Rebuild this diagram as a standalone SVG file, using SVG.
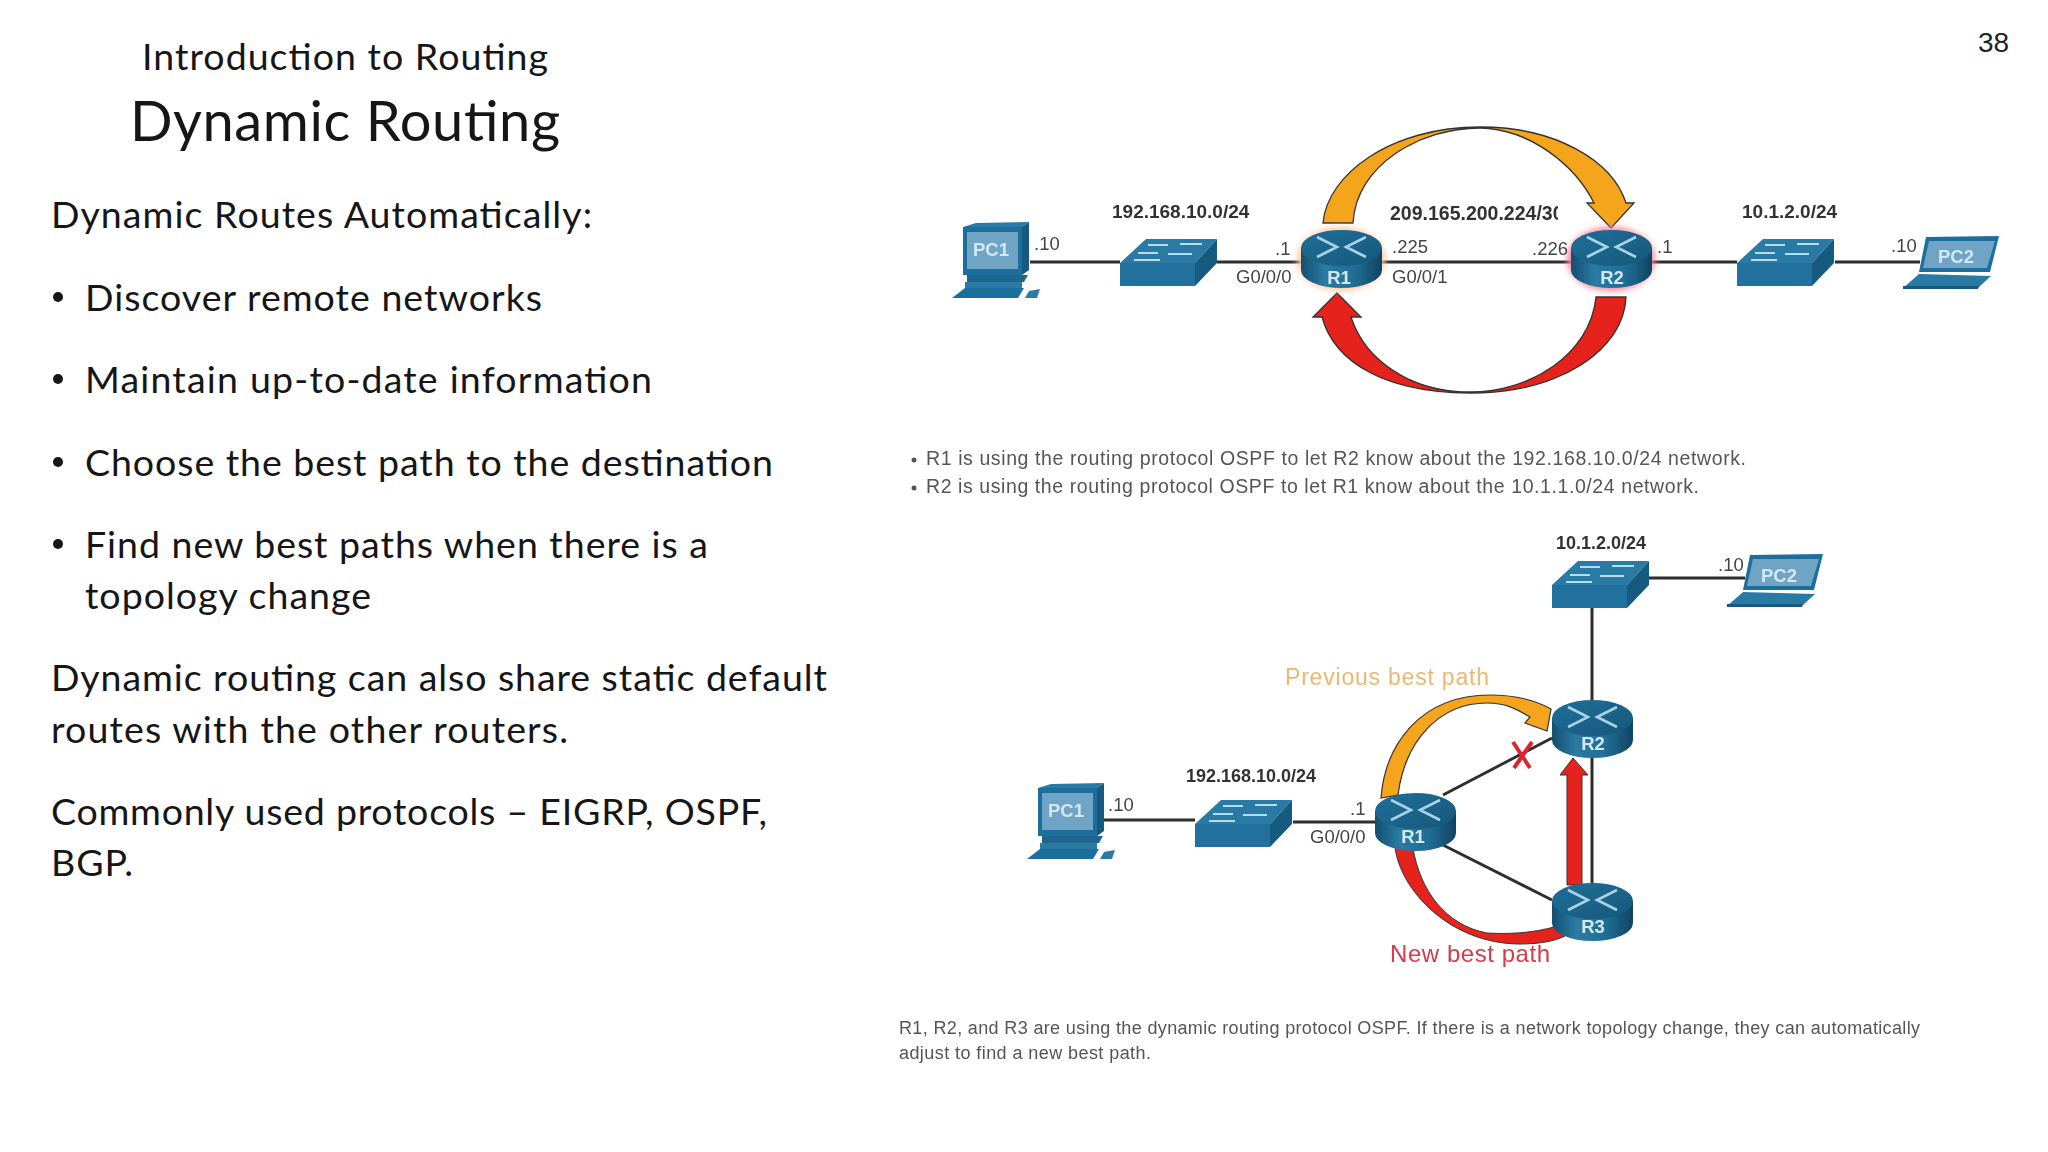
<svg xmlns="http://www.w3.org/2000/svg" width="2048" height="1152" viewBox="0 0 2048 1152">
<style>
.b{font-family:Lato,"Open Sans",sans-serif;font-size:37.500px;fill:#161616}
.d{font-family:"Liberation Sans",Arial,sans-serif;fill:#444;font-size:18.500px}
.s{font-family:"Liberation Sans",Arial,sans-serif;fill:#333;font-size:19px;font-weight:bold}
.n{font-family:"Liberation Sans",Arial,sans-serif;fill:#d3e8f2;font-size:18.500px;font-weight:bold;text-anchor:middle}
.c{font-family:"Liberation Sans",Arial,sans-serif;fill:#555;font-size:19.500px}
.l{stroke:#2e2e2e;stroke-width:3;fill:none}
</style>
<defs>
<filter id="soft" x="-5%" y="-5%" width="110%" height="110%"><feGaussianBlur stdDeviation="0.7"/></filter>
<filter id="glow" x="-30%" y="-30%" width="160%" height="160%"><feGaussianBlur stdDeviation="3"/></filter>
<linearGradient id="rb" x1="0" x2="1" y1="0" y2="0"><stop offset="0" stop-color="#144f70"/><stop offset=".3" stop-color="#2a7ba3"/><stop offset=".7" stop-color="#1f6b92"/><stop offset="1" stop-color="#0f4361"/></linearGradient>
<linearGradient id="rt" x1="0" x2="1" y1="0" y2="1"><stop offset="0" stop-color="#1f6f99"/><stop offset="1" stop-color="#17587c"/></linearGradient>
<clipPath id="cp"><rect x="1380" y="195" width="178" height="35"/></clipPath>
<g id="router">
<path d="M0 18V40A40.500 18 0 0 0 81 40V18Z" fill="url(#rb)"/>
<ellipse cx="40.500" cy="18" rx="40.500" ry="18" fill="url(#rt)"/>
<path d="M16 7L36 17L16 27M65 7L45 17L65 27" fill="none" stroke="#a8d3e6" stroke-width="2.600"/>
</g>
<g id="switch">
<polygon points="0,24 26,0 97,0 75,24" fill="#2a7aa6"/>
<polygon points="0,24 75,24 75,47 0,47" fill="#20709e"/>
<polygon points="75,24 97,0 97,24 75,47" fill="#175a80"/>
<path d="M28 6H48M60 5H82M18 14H38M48 15H72M14 21H40" stroke="#b7dcea" stroke-width="2" fill="none"/>
</g>
<g id="pc">
<polygon points="11,5 24,1 77,0 70,5" fill="#2a7aa6"/>
<rect x="11" y="5" width="59" height="48" fill="#1f6e9c"/>
<polygon points="70,5 77,0 77,48 70,53" fill="#175a80"/>
<rect x="15" y="10" width="51" height="37" fill="#6fa4c4"/>
<polygon points="15,53 76,53 72,60 15,60" fill="#1c668f"/>
<polygon points="13,60 70,60 70,66 13,66" fill="#2a7aa6"/>
<polygon points="0,76 13,66 72,66 66,76" fill="#1f6e9c"/>
<polygon points="73,76 77,69 88,67 85,76" fill="#2a7aa6"/>
</g>
<g id="laptop">
<polygon points="23,1 96,0 87,36 16,36" fill="#1f6e9c"/>
<polygon points="26,5 92,5 84,32 20,32" fill="#6fa4c4"/>
<polygon points="16,38 88,40 75,52 0,52" fill="#2a7aa6"/>
<polygon points="0,50 76,50 75,53 0,53" fill="#175a80"/>
</g>
</defs>
<rect width="2048" height="1152" fill="#fff"/>

<g id="slide-text">
<text x="345" y="70" text-anchor="middle" class="b" textLength="406">Introduction to Routing</text>
<text x="345" y="141" text-anchor="middle" class="b" style="font-size:56px" textLength="430">Dynamic Routing</text>
<text x="51" y="228" class="b" textLength="541">Dynamic Routes Automatically:</text>
<circle cx="58" cy="297" r="5" fill="#161616"/><text x="85" y="311" class="b" textLength="457">Discover remote networks</text>
<circle cx="58" cy="379" r="5" fill="#161616"/><text x="85" y="393" class="b" textLength="567">Maintain up-to-date information</text>
<circle cx="58" cy="462" r="5" fill="#161616"/><text x="85" y="476" class="b" textLength="688">Choose the best path to the destination</text>
<circle cx="58" cy="544" r="5" fill="#161616"/><text x="85" y="558" class="b" textLength="623">Find new best paths when there is a</text>
<text x="85" y="609" class="b" textLength="286">topology change</text>
<text x="51" y="691" class="b" textLength="776">Dynamic routing can also share static default</text>
<text x="51" y="743" class="b" textLength="517">routes with the other routers.</text>
<text x="51" y="825" class="b" textLength="716">Commonly used protocols – EIGRP, OSPF,</text>
<text x="51" y="876" class="b" textLength="82">BGP.</text>
<text x="1978" y="52" style="font-family:'Liberation Sans',Arial,sans-serif;font-size:28px;fill:#222">38</text>
</g>

<g filter="url(#soft)">
<g id="connectors">
<path class="l" d="M1030 262H1120M1217 262H1301M1382 262H1571M1651 262H1737M1835 262H1920"/>
<path class="l" d="M1103 820H1195M1293 822H1375M1649 578H1745M1592 607V883M1443 795L1552 738M1443 845L1552 900"/>
<path d="M1323 223C1327 175,1390 127,1480 127C1555 127,1612 160,1626 203L1634 203L1611 228L1587 203L1594 203C1575 165,1530 129,1480 128C1420 128,1356 165,1353 223Z" fill="#f5a51c" stroke="#333" stroke-width="1.300"/>
<path d="M1626 297C1624 350,1560 393,1470 393C1390 393,1335 365,1322 317L1313 317L1337 293L1361 317L1351 317C1365 360,1410 392,1470 392C1530 392,1590 355,1596 297Z" fill="#e5201c" stroke="#333" stroke-width="1.300"/>
<path d="M1381 798C1385 745,1420 695,1490 695C1515 695,1535 700,1551 709L1547 731L1525 723L1530 717C1515 708,1505 703,1487 703C1440 703,1405 740,1398 795Z" fill="#f5a51c" stroke="#333" stroke-width="1.200"/>
<path d="M1395 847C1400 890,1450 944,1520 944C1540 944,1555 941,1565 936L1558 926C1530 934,1505 934,1487 933C1445 925,1420 890,1413 848Z" fill="#e5201c" stroke="#333" stroke-width="1"/>
<polygon points="1567,885 1567,775 1560,775 1573,758 1588,775 1582,775 1582,885" fill="#e5201c" stroke="#333" stroke-width="1"/>
<path d="M1513 742L1530 768M1532 742L1514 768" stroke="#d9262e" stroke-width="4" fill="none"/>
</g>

<g id="top-pc1"><use href="#pc" transform="translate(952 222)"/><text x="991" y="256" class="n">PC1</text></g>
<g id="top-sw1"><use href="#switch" transform="translate(1120 239)"/></g>
<g id="top-r1"><ellipse cx="1341" cy="259" rx="44" ry="32" fill="#ffc9a0" filter="url(#glow)"/><use href="#router" transform="translate(1301 230)"/><text x="1339" y="284" class="n">R1</text></g>
<g id="top-r2"><ellipse cx="1611" cy="259" rx="44" ry="32" fill="#f4869a" filter="url(#glow)"/><use href="#router" transform="translate(1571 230)"/><text x="1612" y="284" class="n">R2</text></g>
<g id="top-sw2"><use href="#switch" transform="translate(1737 239)"/></g>
<g id="top-pc2"><use href="#laptop" transform="translate(1903 236)"/><text x="1956" y="263" class="n">PC2</text></g>

<g id="top-labels">
<text x="1112" y="218" class="s">192.168.10.0/24</text>
<text x="1390" y="220" class="s" style="font-size:19.500px" clip-path="url(#cp)">209.165.200.224/30</text>
<text x="1742" y="218" class="s">10.1.2.0/24</text>
<text x="1034" y="250" class="d">.10</text>
<text x="1275" y="255" class="d">.1</text>
<text x="1236" y="283" class="d">G0/0/0</text>
<text x="1392" y="253" class="d">.225</text>
<text x="1392" y="283" class="d">G0/0/1</text>
<text x="1532" y="255" class="d">.226</text>
<text x="1657" y="253" class="d">.1</text>
<text x="1891" y="252" class="d">.10</text>
</g>

<g id="mid-caption">
<circle cx="914" cy="460" r="2.500" fill="#555"/><text x="926" y="465" class="c" textLength="820">R1 is using the routing protocol OSPF to let R2 know about the 192.168.10.0/24 network.</text>
<circle cx="914" cy="488" r="2.500" fill="#555"/><text x="926" y="493" class="c" textLength="773">R2 is using the routing protocol OSPF to let R1 know about the 10.1.1.0/24 network.</text>
</g>

<g id="bot-sw2"><use href="#switch" transform="translate(1552 561)"/></g>
<g id="bot-pc2"><use href="#laptop" transform="translate(1727 554)"/><text x="1779" y="582" class="n">PC2</text></g>
<g id="bot-pc1"><use href="#pc" transform="translate(1027 783)"/><text x="1066" y="817" class="n">PC1</text></g>
<g id="bot-sw1"><use href="#switch" transform="translate(1195 800)"/></g>
<g id="bot-r1"><use href="#router" transform="translate(1375 793)"/><text x="1413" y="843" class="n">R1</text></g>
<g id="bot-r2"><use href="#router" transform="translate(1552 700)"/><text x="1593" y="750" class="n">R2</text></g>
<g id="bot-r3"><use href="#router" transform="translate(1552 883)"/><text x="1593" y="933" class="n">R3</text></g>

<g id="bot-labels">
<text x="1556" y="549" class="s" style="font-size:18px">10.1.2.0/24</text>
<text x="1718" y="571" class="d">.10</text>
<text x="1186" y="782" class="s" style="font-size:18px">192.168.10.0/24</text>
<text x="1108" y="811" class="d">.10</text>
<text x="1350" y="815" class="d">.1</text>
<text x="1310" y="843" class="d">G0/0/0</text>
<text x="1285" y="685" style="font-family:'Liberation Sans',Arial,sans-serif;font-size:23px;fill:#eab872" textLength="204">Previous best path</text>
<text x="1390" y="962" style="font-family:'Liberation Sans',Arial,sans-serif;font-size:24px;fill:#d63a4a" textLength="160">New best path</text>
<text x="899" y="1034" class="c" style="font-size:18px" textLength="1021">R1, R2, and R3 are using the dynamic routing protocol OSPF. If there is a network topology change, they can automatically</text>
<text x="899" y="1059" class="c" style="font-size:18px" textLength="252">adjust to find a new best path.</text>
</g>
</g>
</svg>
